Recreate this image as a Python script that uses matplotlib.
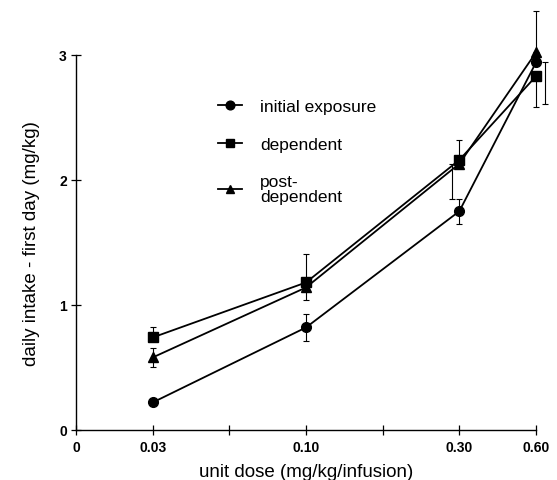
import numpy as np
import matplotlib
matplotlib.use("Agg")
import matplotlib.pyplot as plt

# ====================== data ======================
DOSE_LABELS = ["0", "0.03", "", "0.10", "", "0.30", "0.60"]
DOSE_POS = [1, 3, 5, 6]          # evenly spaced category slots on the x axis

initial_y = [0.22, 0.82, 1.75, 2.94]
initial_lo = [0.0, 0.11, 0.10, 0.33]
initial_hi = [0.0, 0.11, 0.10, 0.0]

dependent_y = [0.74, 1.18, 2.16, 2.83]
dependent_lo = [0.0, 0.0, 0.0, 0.25]
dependent_hi = [0.08, 0.23, 0.16, 0.0]

postdep_y = [0.58, 1.14, 2.13, 3.02]
postdep_lo = [0.075, 0.10, 0.28, 0.0]
postdep_hi = [0.075, 0.0, 0.0, 0.33]

# small horizontal shifts of some error bars, as in the original figure
initial_shift = [0, 0, 0, 0.12]
postdep_shift = [0, 0, -0.1, 0]
# ==================================================

plt.rcParams['font.family'] = ['Liberation Sans', 'DejaVu Sans']

fig = plt.figure(figsize=(5.57, 4.81), dpi=100)
ax = fig.add_axes([0.1364, 0.104, 0.8259, 0.7796])

series = [
    ("initial exposure", "o", initial_y, initial_lo, initial_hi, initial_shift),
    ("dependent", "s", dependent_y, dependent_lo, dependent_hi, [0, 0, 0, 0]),
    ("post-\ndependent", "^", postdep_y, postdep_lo, postdep_hi, postdep_shift),
]

for label, marker, y, lo, hi, shift in series:
    x = np.array(DOSE_POS, dtype=float)
    ax.errorbar(x + np.array(shift), y, yerr=[lo, hi], fmt="none",
                ecolor="black", elinewidth=0.8, capsize=2.2, capthick=0.8,
                clip_on=False, zorder=2)
    ax.plot(x, y, color="black", lw=1.3, marker=marker, ms=7,
            label=label, clip_on=False, zorder=3)

ax.set_xlim(0, 6)
ax.set_ylim(0, 3)
ax.set_xticks(range(len(DOSE_LABELS)))
ax.set_xticklabels(DOSE_LABELS, fontsize=10, fontweight="bold")
ax.set_yticks([0, 1, 2, 3])
ax.set_yticklabels(["0", "1", "2", "3"], fontsize=10, fontweight="bold")
ax.tick_params(axis="x", direction="inout", length=7, width=0.9, pad=4)
ax.tick_params(axis="y", direction="inout", length=7, width=0.9, pad=3)

for s in ("top", "right"):
    ax.spines[s].set_visible(False)
for s in ("left", "bottom"):
    ax.spines[s].set_linewidth(1.0)

ax.set_xlabel("unit dose (mg/kg/infusion)", fontsize=13.5, labelpad=6)
ax.set_ylabel("daily intake - first day (mg/kg)", fontsize=13.5, labelpad=14)

leg = ax.legend(loc="upper left", bbox_to_anchor=(0.275, 0.925), frameon=False,
                fontsize=12.5, handlelength=1.4, handletextpad=1.0,
                labelspacing=1.3, markerscale=0.9)
for t in leg.get_texts():
    t.set_linespacing(0.95)

fig.savefig("out.png", dpi=100)
